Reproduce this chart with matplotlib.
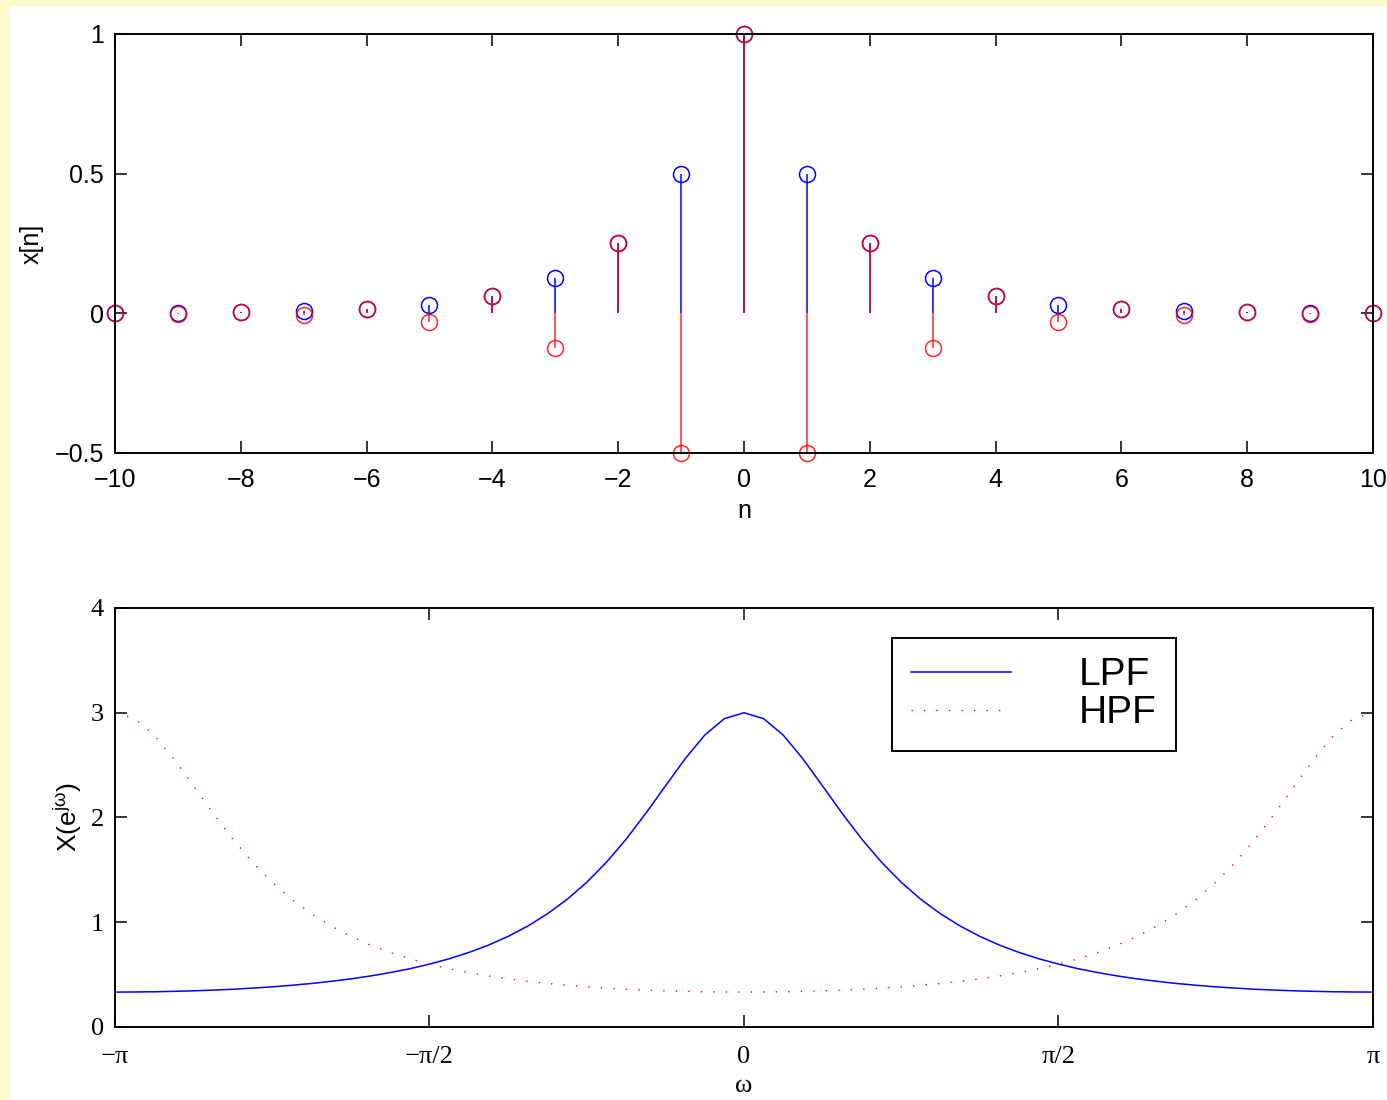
import numpy as np
import matplotlib.pyplot as plt
from matplotlib.patches import Rectangle

# impulse responses of the two first order filters (a = 0.5 and a = -0.5)
n = [-10, -9, -8, -7, -6, -5, -4, -3, -2, -1, 0, 1, 2, 3, 4, 5, 6, 7, 8, 9, 10]
x_lpf = [0.00098, 0.00195, 0.0039, 0.0078, 0.0156, 0.03125, 0.0625, 0.125, 0.25, 0.5, 1.0,
         0.5, 0.25, 0.125, 0.0625, 0.03125, 0.0156, 0.0078, 0.0039, 0.00195, 0.00098]
x_hpf = [0.00098, -0.00195, 0.0039, -0.0078, 0.0156, -0.03125, 0.0625, -0.125, 0.25, -0.5, 1.0,
         -0.5, 0.25, -0.125, 0.0625, -0.03125, 0.0156, -0.0078, 0.0039, -0.00195, 0.00098]

# magnitude responses sampled every pi/32 from -pi to pi
h_lpf = [0.333, 0.334, 0.336, 0.340, 0.345, 0.352, 0.360, 0.371, 0.383, 0.398, 0.415,
         0.436, 0.459, 0.487, 0.519, 0.556, 0.600, 0.651, 0.711, 0.781, 0.865, 0.963,
         1.080, 1.218, 1.381, 1.572, 1.792, 2.038, 2.300, 2.559, 2.786, 2.943,
         3.000,
         2.943, 2.786, 2.559, 2.300, 2.038, 1.792, 1.572, 1.381, 1.218, 1.080,
         0.963, 0.865, 0.781, 0.711, 0.651, 0.600, 0.556, 0.519, 0.487, 0.459, 0.436,
         0.415, 0.398, 0.383, 0.371, 0.360, 0.352, 0.345, 0.340, 0.336, 0.334, 0.333]
h_hpf = [3.000, 2.943, 2.786, 2.559, 2.300, 2.038, 1.792, 1.572, 1.381, 1.218, 1.080,
         0.963, 0.865, 0.781, 0.711, 0.651, 0.600, 0.556, 0.519, 0.487, 0.459, 0.436,
         0.415, 0.398, 0.383, 0.371, 0.360, 0.352, 0.345, 0.340, 0.336, 0.334,
         0.333,
         0.334, 0.336, 0.340, 0.345, 0.352, 0.360, 0.371, 0.383, 0.398, 0.415,
         0.436, 0.459, 0.487, 0.519, 0.556, 0.600, 0.651, 0.711, 0.781, 0.865, 0.963,
         1.080, 1.218, 1.381, 1.572, 1.792, 2.038, 2.300, 2.559, 2.786, 2.943, 3.000]
w = np.linspace(-1, 1, len(h_lpf))  # omega in units of pi

w_ticks = [-1, -0.5, 0, 0.5, 1]
w_ticklabels = ['\u2212\u03c0', '\u2212\u03c0/2', '0', '\u03c0/2', '\u03c0']

plt.rcParams['font.family'] = ['Liberation Sans', 'DejaVu Sans']
plt.rcParams['mathtext.fontset'] = 'custom'
plt.rcParams['mathtext.rm'] = 'Liberation Sans'
plt.rcParams['mathtext.it'] = 'Liberation Sans'
plt.rcParams['axes.linewidth'] = 1.4
plt.rcParams['xtick.direction'] = 'in'
plt.rcParams['ytick.direction'] = 'in'
plt.rcParams['xtick.top'] = True
plt.rcParams['ytick.right'] = True
plt.rcParams['xtick.major.size'] = 8.5
plt.rcParams['ytick.major.size'] = 8.5
plt.rcParams['xtick.major.width'] = 1.1
plt.rcParams['ytick.major.width'] = 1.1

fig = plt.figure(figsize=(13.87, 11), dpi=100)
# yellowish page border
fig.patches.append(Rectangle((0, 0), 9 / 1387, 1, transform=fig.transFigure, color='#fff9cd', zorder=-1))
fig.patches.append(Rectangle((0, 1 - 5 / 1100), 1, 5 / 1100, transform=fig.transFigure, color='#fff9cd', zorder=-1))

# top: stems
ax1 = fig.add_axes([0.0829, 0.5882, 0.907, 0.3809])
for vals, col, a in [(x_lpf, 'b', 1.0), (x_hpf, 'r', 0.85)]:
    ml, sl, bl = ax1.stem(n, vals, linefmt=col + '-', markerfmt=col + 'o', basefmt=' ')
    ml.set_markerfacecolor('none')
    ml.set_markersize(11.5)
    ml.set_markeredgewidth(1.1)
    ml.set_clip_on(False)
    ml.set_alpha(a)
    sl.set_linewidth(1.1)
    sl.set_alpha(a)
ax1.set_xlim(-10, 10)
ax1.set_ylim(-0.5, 1)
ax1.set_xticks(range(-10, 11, 2))
ax1.set_yticks([-0.5, 0, 0.5, 1])
ax1.set_yticklabels(['\u22120.5', '0', '0.5', '1'])
ax1.tick_params(labelsize=18, pad=8)
ax1.tick_params(axis='x', pad=11)
ax1.set_xlabel('n', fontsize=18, labelpad=5)
ax1.set_ylabel('x[n]', fontsize=18, labelpad=8)

# bottom: magnitude responses
ax2 = fig.add_axes([0.0829, 0.0664, 0.907, 0.3809])
ax2.plot(w, h_lpf, color='b', lw=1.1, label='LPF')
ax2.plot(w, h_hpf, color='r', lw=1.0, linestyle=(0, (1, 8)), label='HPF')
ax2.set_xlim(-1, 1)
ax2.set_ylim(0, 4)
ax2.set_xticks(w_ticks)
ax2.set_xticklabels(w_ticklabels)
ax2.set_yticks([0, 1, 2, 3, 4])
ax2.tick_params(labelsize=19, pad=8)
ax2.tick_params(axis='x', pad=14)
for lab in ax2.get_xticklabels() + ax2.get_yticklabels():
    lab.set_family('Liberation Serif')
ax2.set_xlabel('\u03c9', fontsize=19, family='Liberation Serif', labelpad=5)
ax2.set_ylabel(r'X(e$^{\mathrm{j\omega}}$)', fontsize=19, labelpad=5)

leg = ax2.legend(loc='upper left', bbox_to_anchor=(0.6177, 0.9284), borderaxespad=0,
                 fontsize=28, handlelength=2.55, handletextpad=1.75, labelspacing=0.05,
                 borderpad=0.5, fancybox=False, framealpha=1, edgecolor='k')
leg.get_frame().set_linewidth(1.4)

fig.savefig('out.png', dpi=100)
